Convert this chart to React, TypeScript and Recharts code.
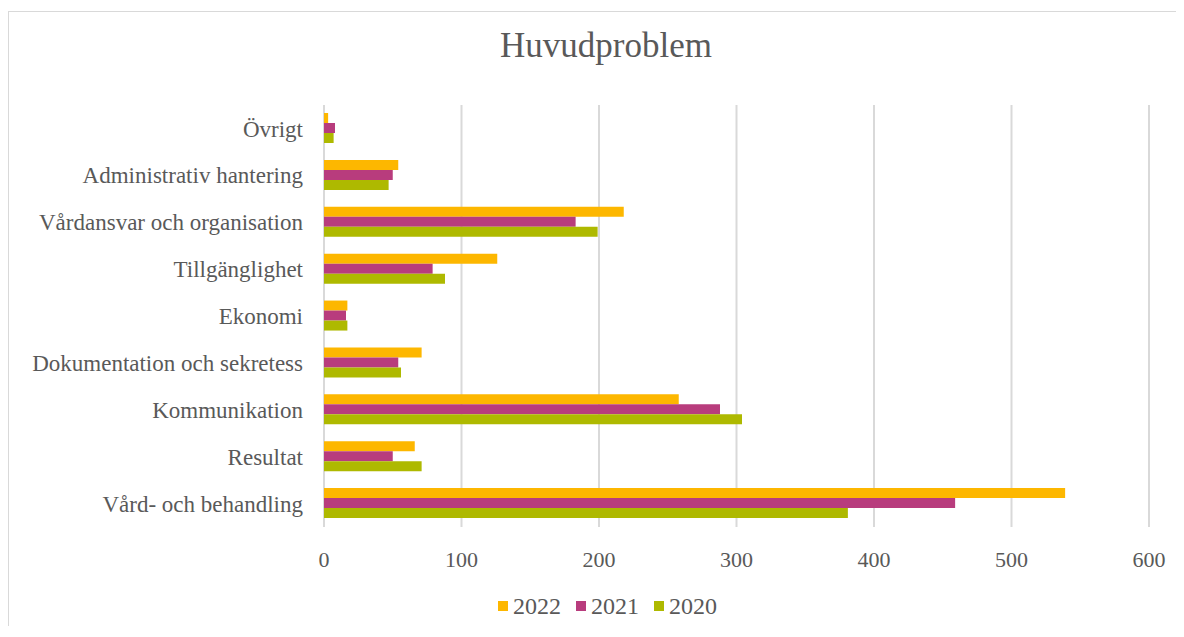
import React from 'react'
import {
  BarChart,
  Bar,
  XAxis,
  YAxis,
  CartesianGrid,
  Legend,
} from 'recharts'

// categories listed top to bottom as they appear in the chart
const categories = [
  'Övrigt',
  'Administrativ hantering',
  'Vårdansvar och organisation',
  'Tillgänglighet',
  'Ekonomi',
  'Dokumentation och sekretess',
  'Kommunikation',
  'Resultat',
  'Vård- och behandling',
]

const values2022 = [3, 54, 218, 126, 17, 71, 258, 66, 539]
const values2021 = [8, 50, 183, 79, 16, 54, 288, 50, 459]
const values2020 = [7, 47, 199, 88, 17, 56, 304, 71, 381]

const xTicks = [0, 100, 200, 300, 400, 500, 600]

const series = [
  { key: '2022', color: '#FDB700' },
  { key: '2021', color: '#B83C7D' },
  { key: '2020', color: '#AEB900' },
]

const FONT = "'Liberation Serif', 'Times New Roman', serif"
const TEXT = '#595959'

const W = 1168
const H = 618

const data = categories.map((name, i) => ({
  name,
  '2022': values2022[i],
  '2021': values2021[i],
  '2020': values2020[i],
}))

const LegendContent = () => (
  <div
    style={{
      display: 'flex',
      justifyContent: 'center',
      alignItems: 'center',
      height: 20,
      gap: 15,
    }}
  >
    {series.map((s) => (
      <div key={s.key} style={{ display: 'flex', alignItems: 'center' }}>
        <span
          style={{
            display: 'inline-block',
            width: 10,
            height: 10,
            background: s.color,
            marginRight: 5,
          }}
        />
        <span
          style={{ lineHeight: '20px', fontFamily: FONT, fontSize: 24, color: TEXT }}
        >
          {s.key}
        </span>
      </div>
    ))}
  </div>
)

export default function App() {
  return (
    <div style={{ position: 'relative', width: W, height: H, paddingTop: 3, boxSizing: 'border-box' }}>
      <style>{'html, body { overflow: hidden; }'}</style>
      <div
        style={{
          position: 'absolute',
          left: 0,
          top: 3,
          width: W,
          height: H - 3,
          borderTop: '1px solid #d9d9d9',
          borderLeft: '1px solid #d9d9d9',
          boxSizing: 'border-box',
        }}
      />
      <div
        style={{
          position: 'absolute',
          left: 0,
          width: W,
          top: 20,
          paddingLeft: 28,
          boxSizing: 'border-box',
          textAlign: 'center',
          fontFamily: FONT,
          fontSize: 35,
          lineHeight: 1,
          color: TEXT,
        }}
      >
        Huvudproblem
      </div>
      <div style={{ position: 'absolute', left: 0, top: 3 }}>
        <BarChart
          width={W}
          height={H - 3}
          data={data}
          layout="vertical"
          margin={{ top: 94, right: 27, bottom: 10, left: 0 }}
          barSize={10}
          barGap={0}
        >
          <CartesianGrid horizontal={false} stroke="#d9d9d9" strokeWidth={2} />
          <XAxis
            type="number"
            domain={[0, 600]}
            ticks={xTicks}
            axisLine={false}
            tickLine={false}
            tickMargin={18}
            height={69}
            tick={{ fill: TEXT, fontFamily: FONT, fontSize: 22 }}
          />
          <YAxis
            type="category"
            dataKey="name"
            width={316}
            axisLine={false}
            tickLine={false}
            tickMargin={15}
            interval={0}
            tick={{ fill: TEXT, fontFamily: FONT, fontSize: 23 }}
          />
          <Legend
            verticalAlign="bottom"
            content={<LegendContent />}
            wrapperStyle={{ left: 31, width: 1137 }}
          />
          {series.map((s) => (
            <Bar key={s.key} dataKey={s.key} fill={s.color} isAnimationActive={false} />
          ))}
        </BarChart>
      </div>
    </div>
  )
}
